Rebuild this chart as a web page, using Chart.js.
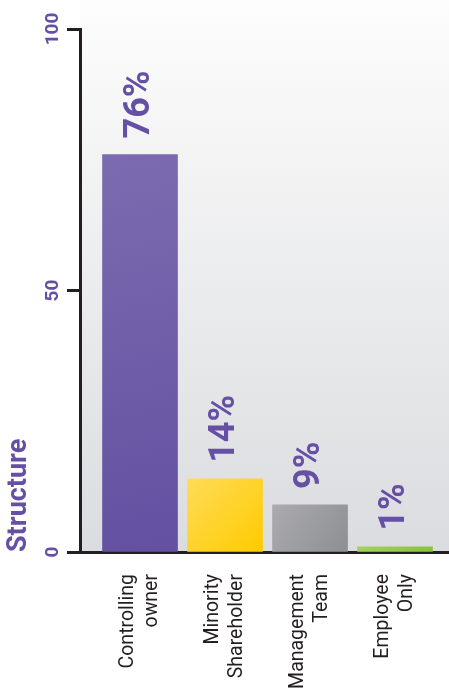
<!DOCTYPE html>
<html>
<head>
<meta charset="utf-8">
<script src="https://cdn.jsdelivr.net/npm/chart.js@4.4.1/dist/chart.umd.min.js"></script>
<style>
  html, body { margin: 0; padding: 0; background: #fff; }
</style>
</head>
<body>
<canvas id="structure-chart" width="449" height="690"></canvas>
<script>
// Ownership structure, share of companies by type (%)
const categories = [
  ["Controlling", "owner"],
  ["Minority", "Shareholder"],
  ["Management", "Team"],
  ["Employee", "Only"],
]
const shares = [76, 14, 9, 1]
const yTicks = [0, 50, 100]

const purple = "#6650a5"
const axisColor = "#231f20"
// light -> dark for each bar
const barShades = [
  ["#7c6bb0", "#6350a1"],
  ["#ffdb57", "#ffcb00"],
  ["#ababae", "#8e8f92"],
  ["#a2d162", "#88c33d"],
]

function barGradient(context) {
  const { chart, dataIndex } = context
  const shade = barShades[dataIndex]
  const xs = chart.scales.x
  const ys = chart.scales.y
  if (!chart.chartArea || !xs || !ys) return shade[1]
  const cx = xs.getPixelForValue(dataIndex)
  const g = chart.ctx.createLinearGradient(
    cx - 37, ys.getPixelForValue(shares[dataIndex]),
    cx + 37, ys.getPixelForValue(0)
  )
  g.addColorStop(0, shade[0])
  g.addColorStop(1, shade[1])
  return g
}

// white page with a soft grey wash behind the plot
const backdrop = {
  id: "backdrop",
  beforeDraw(chart) {
    const { ctx, chartArea } = chart
    ctx.save()
    ctx.fillStyle = "#ffffff"
    ctx.fillRect(0, 0, chart.width, chart.height)
    const g = ctx.createLinearGradient(0, 0, 0, chartArea.bottom)
    g.addColorStop(0, "#fdfdfd")
    g.addColorStop(1, "#dbdcdf")
    ctx.fillStyle = g
    ctx.fillRect(chartArea.left, 0, chart.width - chartArea.left, chartArea.bottom)
    ctx.restore()
  },
}

// rotated percentage above each bar
const valueLabels = {
  id: "valueLabels",
  afterDatasetsDraw(chart) {
    const { ctx } = chart
    const bars = chart.getDatasetMeta(0).data
    ctx.save()
    ctx.fillStyle = purple
    ctx.font = "bold 36px Roboto"
    ctx.textAlign = "left"
    ctx.textBaseline = "middle"
    bars.forEach((bar, i) => {
      ctx.save()
      ctx.translate(bar.x, bar.y - 16)
      ctx.rotate(-Math.PI / 2)
      ctx.fillText(shares[i] + "%", 0, 0)
      ctx.restore()
    })
    ctx.restore()
  },
}

const ctx = document.getElementById("structure-chart").getContext("2d")
const structureChart = new Chart(ctx, {
  type: "bar",
  data: {
    datasets: [
      {
        data: shares.map((v, i) => ({ x: i, y: v })),
        backgroundColor: barGradient,
        borderWidth: 0,
        barThickness: 75,
      },
    ],
  },
  options: {
    responsive: false,
    devicePixelRatio: 1,
    animation: false,
    layout: { padding: { top: 29, right: 0, bottom: 0, left: 0 } },
    plugins: {
      legend: { display: false },
      tooltip: { enabled: false },
    },
    scales: {
      x: {
        type: "linear",
        offset: false,
        min: -0.706,
        max: 3.635,
        afterBuildTicks: (scale) => {
          scale.ticks = categories.map((_, i) => ({ value: i }))
        },
        afterFit: (scale) => {
          scale.height = 138
        },
        grid: {
          display: true,
          offset: false,
          drawOnChartArea: false,
          color: "rgba(0,0,0,0)",
          tickLength: 22,
        },
        border: { display: true, width: 3, color: axisColor },
        ticks: {
          minRotation: 90,
          maxRotation: 90,
          padding: 0,
          labelOffset: -12,
          color: "#231f20",
          font: { family: "Roboto", size: 19.5, lineHeight: 1.23 },
          callback: (value) => categories[value],
        },
      },
      y: {
        min: 0,
        max: 100,
        afterBuildTicks: (scale) => {
          scale.ticks = yTicks.map((v) => ({ value: v }))
        },
        afterFit: (scale) => {
          scale.width = 80
        },
        grid: {
          drawOnChartArea: false,
          drawTicks: true,
          tickLength: 13,
          tickWidth: 3,
          tickColor: axisColor,
        },
        border: { display: true, width: 3, color: axisColor },
        ticks: {
          minRotation: 90,
          maxRotation: 90,
          crossAlign: "center",
          padding: -3,
          color: purple,
          font: { family: "Roboto", size: 19, weight: "bold" },
        },
        title: {
          display: true,
          text: "Structure",
          align: "start",
          color: purple,
          font: { family: "Roboto", size: 27, weight: "bold" },
          padding: { top: 3, bottom: 0 },
        },
      },
    },
  },
  plugins: [backdrop, valueLabels],
})
</script>
</body>
</html>
